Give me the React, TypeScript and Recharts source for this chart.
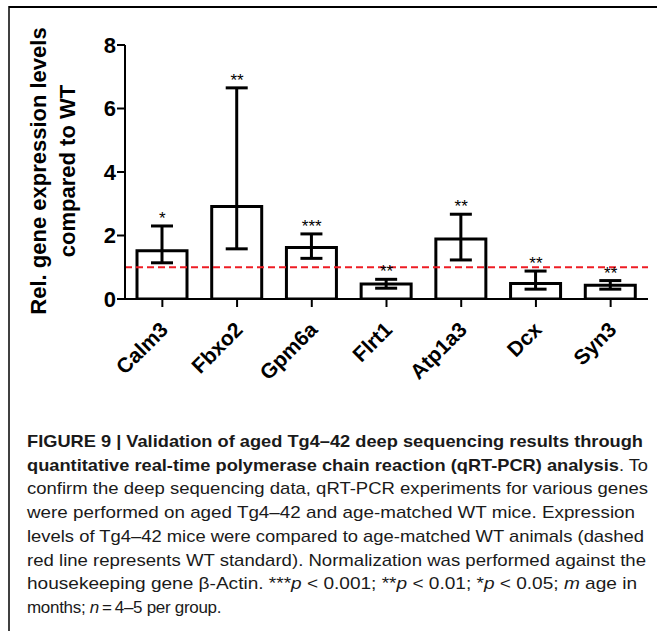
import React from 'react';
import {
  ComposedChart,
  Bar,
  Line,
  XAxis,
  YAxis,
  ErrorBar,
  LabelList,
  ReferenceLine,
} from 'recharts';

const genes = ['Calm3', 'Fbxo2', 'Gpm6a', 'Flrt1', 'Atp1a3', 'Dcx', 'Syn3'];
const means = [1.52, 2.91, 1.62, 0.47, 1.89, 0.49, 0.43];
const lowBounds = [1.14, 1.58, 1.28, 0.34, 1.23, 0.31, 0.31];
const highBounds = [2.3, 6.65, 2.05, 0.62, 2.67, 0.88, 0.58];
const stars = ['*', '**', '***', '**', '**', '**', '**'];
const yTicks = [0, 2, 4, 6, 8];
const wtLevel = 1;

const font = '"Liberation Sans", Arial, Helvetica, sans-serif';

const data = genes.map((g, i) => ({
  gene: g,
  mean: means[i],
  err: [means[i] - lowBounds[i], highBounds[i] - means[i]],
  top: highBounds[i],
  stars: stars[i],
}));

const GeneTick = (props: any) => {
  const { x, y, payload } = props;
  const x0 = x + 7;
  const y0 = y + 22;
  return (
    <text
      x={x0}
      y={y0}
      transform={`rotate(-45 ${x0} ${y0})`}
      textAnchor="end"
      fontFamily={font}
      fontWeight="bold"
      fontSize={21}
      fill="#000"
    >
      {payload.value}
    </text>
  );
};

const StarLabel = (props: any) => {
  const { x, y, value } = props;
  return (
    <text x={x} y={y - 2} textAnchor="middle" fontFamily={font} fontSize={17} fill="#000">
      {value}
    </text>
  );
};

const YTitle = () => (
  <g fontFamily={font} fontWeight="bold" fontSize={22} fill="#000">
    <text x={38} y={171} transform="rotate(-90 38 171)" textAnchor="middle" dominantBaseline="central">
      Rel. gene expression levels
    </text>
    <text x={67} y={171} transform="rotate(-90 67 171)" textAnchor="middle" dominantBaseline="central">
      compared to WT
    </text>
  </g>
);

const captionLines = [
  { len: 616, parts: [{ t: 'FIGURE 9 | Validation of aged Tg4–42 deep sequencing results through', b: true }] },
  {
    len: 621,
    parts: [
      { t: 'quantitative real-time polymerase chain reaction (qRT-PCR) analysis', b: true },
      { t: '. To' },
    ],
  },
  { len: 621, parts: [{ t: 'confirm the deep sequencing data, qRT-PCR experiments for various genes' }] },
  { len: 608, parts: [{ t: 'were performed on aged Tg4–42 and age-matched WT mice. Expression' }] },
  { len: 617, parts: [{ t: 'levels of Tg4–42 mice were compared to age-matched WT animals (dashed' }] },
  { len: 619, parts: [{ t: 'red line represents WT standard). Normalization was performed against the' }] },
  {
    len: 610,
    parts: [
      { t: 'housekeeping gene β-Actin. ***' },
      { t: 'p', i: true },
      { t: ' < 0.001; **' },
      { t: 'p', i: true },
      { t: ' < 0.01; *' },
      { t: 'p', i: true },
      { t: ' < 0.05; ' },
      { t: 'm', i: true },
      { t: ' age in' },
    ],
  },
  {
    len: 0,
    parts: [{ t: 'months; ' }, { t: 'n', i: true }, { t: '\u2009=\u20094–5 per group.' }],
  },
];

export default function App() {
  return (
    <div style={{ position: 'absolute', left: 0, top: 0, width: 657, height: 631, background: '#fff' }}>
      <ComposedChart
        width={657}
        height={420}
        data={data}
        margin={{ top: 45, right: 9, bottom: 0, left: 0 }}
      >
        <XAxis
          dataKey="gene"
          height={121}
          axisLine={{ stroke: '#000', strokeWidth: 2 }}
          tickLine={{ stroke: '#000', strokeWidth: 2 }}
          tickSize={8}
          tickMargin={2}
          interval={0}
          tick={<GeneTick />}
        />
        <YAxis
          width={125}
          domain={[0, 8]}
          ticks={yTicks}
          allowDataOverflow
          axisLine={{ stroke: '#000', strokeWidth: 2 }}
          tickLine={{ stroke: '#000', strokeWidth: 2 }}
          tickSize={8}
          tickMargin={1}
          tick={{ fill: '#000', fontSize: 22, fontWeight: 'bold', fontFamily: font }}
        />
        <Bar dataKey="mean" fill="#fff" stroke="#000" strokeWidth={3} barSize={50} isAnimationActive={false}>
          <ErrorBar dataKey="err" width={11} stroke="#000" strokeWidth={3} />
        </Bar>
        <Line
          dataKey="top"
          stroke="none"
          dot={false}
          activeDot={false}
          legendType="none"
          isAnimationActive={false}
        >
          <LabelList dataKey="stars" content={<StarLabel />} />
        </Line>
        <ReferenceLine y={wtLevel} stroke="#ee1c24" strokeWidth={2} strokeDasharray="7 4" />
        <YTitle />
      </ComposedChart>
      <svg
        width={657}
        height={631}
        style={{ position: 'absolute', left: 0, top: 0, pointerEvents: 'none' }}
      >
        <line x1={9} y1={7} x2={657} y2={7} stroke="#000" strokeWidth={2} />
        <line x1={9} y1={6} x2={9} y2={631} stroke="#000" strokeWidth={1.5} />
        <g fontFamily={font} fontSize={17} fill="#1a1a1a">
          {captionLines.map((line, li) => (
            <text
              key={li}
              x={27}
              y={447 + li * 23.7}
              textLength={line.len || undefined}
              lengthAdjust={line.len ? 'spacingAndGlyphs' : undefined}
              letterSpacing={line.len ? undefined : -0.3}
            >
              {line.parts.map((p: any, pi) => (
                <tspan
                  key={pi}
                  fontWeight={p.b ? 'bold' : 'normal'}
                  fontStyle={p.i ? 'italic' : 'normal'}
                >
                  {p.t}
                </tspan>
              ))}
            </text>
          ))}
        </g>
      </svg>
    </div>
  );
}
